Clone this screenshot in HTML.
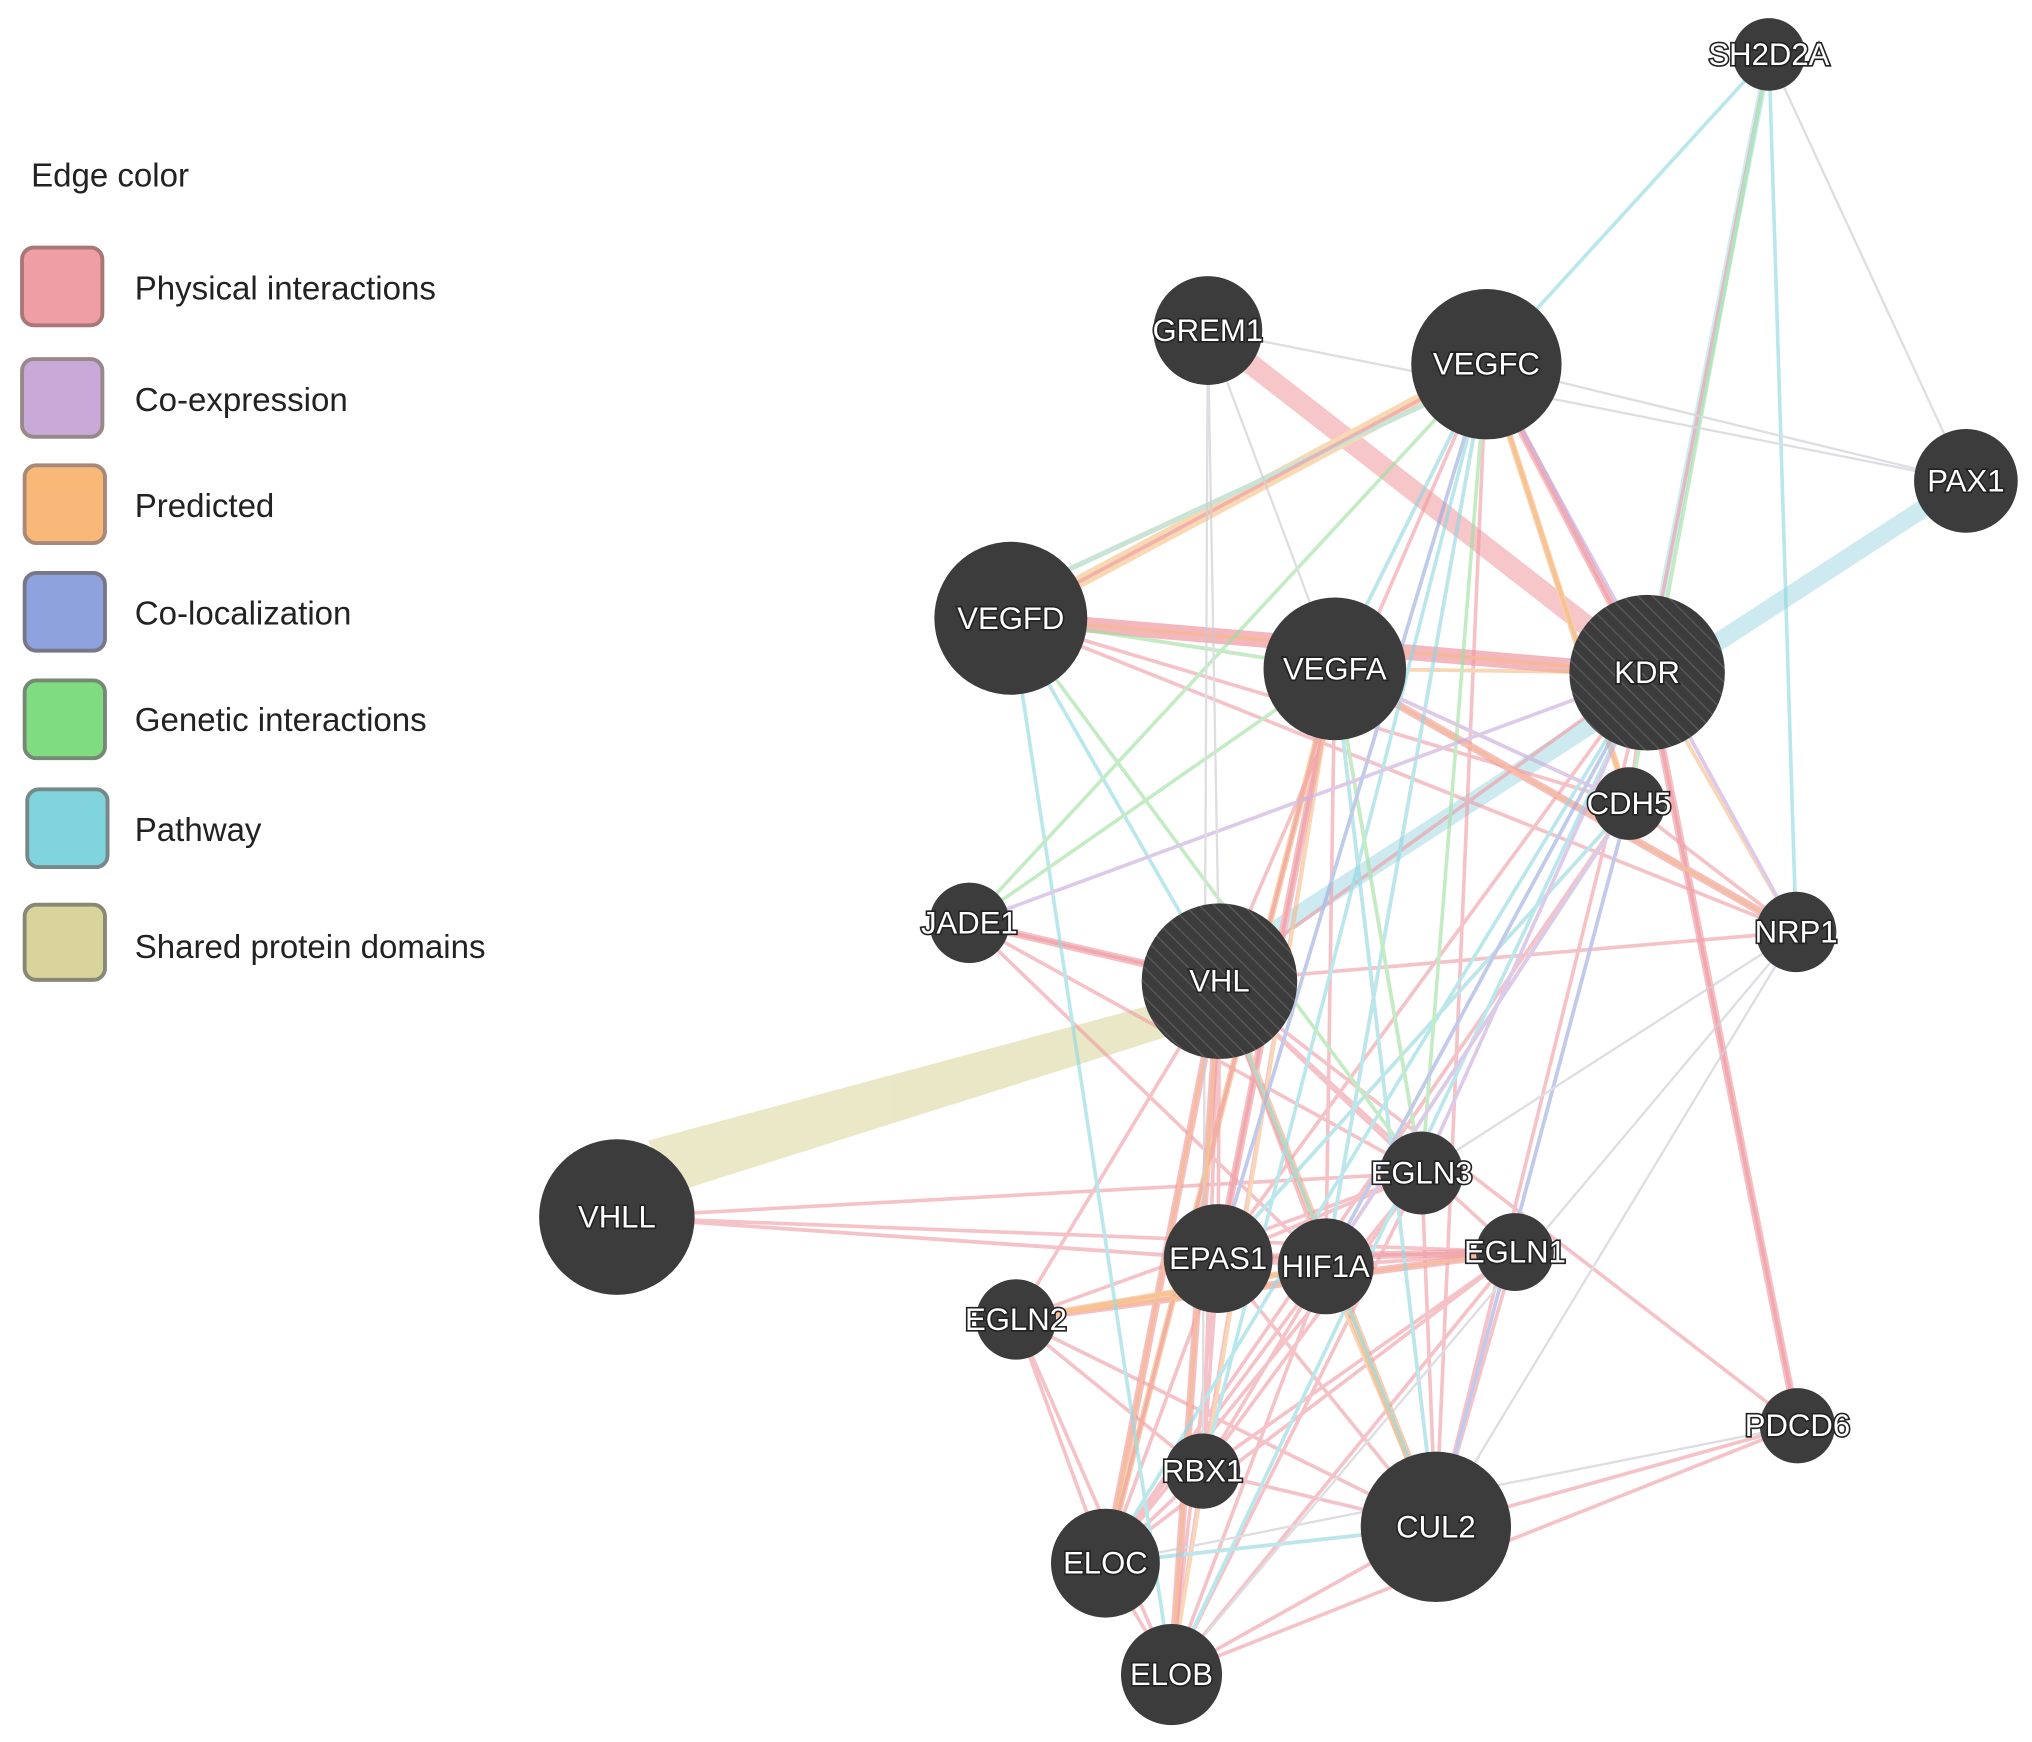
<!DOCTYPE html>
<html><head><meta charset="utf-8"><style>
html,body{margin:0;padding:0;background:#fff;}
svg{display:block;}
text{font-family:"Liberation Sans",sans-serif;}
.n{fill:#3c3c3c;}
.l{fill:#fff;font-size:24px;text-anchor:middle;dominant-baseline:central;paint-order:stroke;stroke:#222;stroke-width:2.5px;}
.lg{fill:#222;font-size:25.5px;}
</style></head><body>
<svg width="2032" height="1742" viewBox="0 0 1568 1344" preserveAspectRatio="none" xmlns="http://www.w3.org/2000/svg">
<defs>
<pattern id="h" width="8" height="8" patternUnits="userSpaceOnUse" patternTransform="rotate(-45)">
<rect width="8" height="8" fill="#3c3c3c"/><line x1="0" y1="0" x2="0" y2="8" stroke="#5a5a5a" stroke-width="2"/>
</pattern>
</defs>
<text class="lg" x="24" y="144">Edge color</text>
<g stroke-width="3">
<rect x="17" y="191" width="62" height="60" rx="9" fill="#ee9ea4" stroke="#a77"/>
<rect x="17" y="277" width="62" height="60" rx="9" fill="#c9a9d8" stroke="#988"/>
<rect x="19" y="359" width="62" height="60" rx="9" fill="#f8b878" stroke="#a87"/>
<rect x="19" y="442" width="62" height="60" rx="9" fill="#8ea2dd" stroke="#778"/>
<rect x="19" y="525" width="62" height="60" rx="9" fill="#7fdc80" stroke="#787"/>
<rect x="21" y="609" width="62" height="60" rx="9" fill="#80d4de" stroke="#788"/>
<rect x="19" y="698" width="62" height="58" rx="9" fill="#d8d49c" stroke="#887"/>
</g>
<text class="lg" x="104" y="231">Physical interactions</text>
<text class="lg" x="104" y="317">Co-expression</text>
<text class="lg" x="104" y="399">Predicted</text>
<text class="lg" x="104" y="482">Co-localization</text>
<text class="lg" x="104" y="564">Genetic interactions</text>
<text class="lg" x="104" y="649">Pathway</text>
<text class="lg" x="104" y="739">Shared protein domains</text>

<g stroke-linecap="butt" opacity="0.75">
<polygon points="500,880 520,920 900,800 890,775" fill="#e4e0b4"/>
<line x1="1517" y1="371" x2="980" y2="720" stroke="#bde4ec" stroke-width="14"/>
<line x1="932" y1="255" x2="1271" y2="519" stroke="#f4b4b8" stroke-width="16"/>
<line x1="780" y1="477" x2="1271" y2="519" stroke="#f0a0a8" stroke-width="12"/>
<line x1="780" y1="477" x2="1147" y2="281" stroke="#f8cc9c" stroke-width="10"/>
<line x1="780" y1="460" x2="1147" y2="290" stroke="#b8dcc8" stroke-width="4"/>
<line x1="1365" y1="42" x2="1271" y2="519" stroke="#bfe6ee" stroke-width="6"/>
<g stroke="#f2acb2" stroke-width="6">
<path d="M941 757L1108 1178M941 757L904 1292M941 757L853 1206M784 1018L1169 966M940 971L1169 966M1271 519L1387 1100M1147 281L1271 519M1030 516L1386 719M748 712L941 757M1030 516L940 971"/>
</g>
<g stroke="#f7c28e" stroke-width="5">
<path d="M941 757L1108 1178M784 1018L1023 977M1147 281L1257 620M1030 516L853 1206"/>
</g>
</g>
<g fill="none" stroke-width="2.8" opacity="0.6">
<g stroke="#ef9aa2">
<path d="M1147 281L1271 519M1147 281L1386 719M1147 281L1257 620M1147 281L1030 516M1147 281L780 477M1271 519L1030 516M1271 519L1386 719M1271 519L1387 1100M1271 519L1257 620M780 477L1030 516M780 477L1386 719M1030 516L1386 719M748 712L941 757M748 712L1097 905M941 757L940 971M941 757L1023 977M941 757L1108 1178M941 757L928 1135M941 757L853 1206M941 757L904 1292M941 757L784 1018M941 757L1169 966M941 757L1097 905M476 939L940 971M476 939L1023 977M476 939L1169 966M784 1018L1169 966M784 1018L1097 905M784 1018L1108 1178M784 1018L904 1292M784 1018L853 1206M940 971L1108 1178M940 971L904 1292M940 971L853 1206M940 971L928 1135M1023 977L1108 1178M1023 977L853 1206M1023 977L904 1292M1023 977L928 1135M1097 905L853 1206M1097 905L904 1292M1097 905L1108 1178M1169 966L853 1206M1169 966L904 1292M1169 966L928 1135M1169 966L1108 1178M1108 1178L853 1206M1108 1178L904 1292M928 1135L1108 1178M928 1135L853 1206M928 1135L904 1292M853 1206L904 1292M1387 1100L1108 1178M1387 1100L904 1292M1030 516L940 971M1030 516L1023 977M1030 516L1108 1178M1030 516L853 1206M1147 281L941 757M1271 519L941 757M941 757L1387 1100M1365 42L1271 519M1257 620L1023 977M1030 516L1257 620M780 477L1257 620M1169 966L940 971M1097 905L940 971M1023 977L784 1018M941 757L1386 719M1030 516L1097 905M1030 516L904 1292M1030 516L928 1135M1147 281L1108 1178M1147 281L1023 977M1271 519L1108 1178M1271 519L940 971M1257 620L853 1206M1257 620L1386 719M784 1018L928 1135M476 939L1097 905M1097 905L928 1135M1023 977L1169 966M748 712L1023 977"/>
</g>
<g stroke="#f6bb85">
<path d="M941 757L1108 1178M941 757L904 1292M941 757L853 1206M784 1018L1023 977M784 1018L1169 966M1030 516L1386 719M1147 281L1257 620M1030 516L1271 519M1257 620L940 971M1030 516L904 1292M780 477L1271 519M1023 977L1108 1178M1257 620L1023 977M1271 519L1386 719"/>
</g>
<g stroke="#8cd8e0">
<path d="M780 477L941 757M1147 281L1030 516M1147 281L1023 977M1257 620L1023 977M1365 42L1147 281M1365 42L1386 719M1271 519L904 1292M1030 516L1108 1178M941 757L1108 1178M853 1206L1108 1178M1257 620L940 971M1147 281L928 1135M1271 519L853 1206M780 477L904 1292"/>
</g>
<g stroke="#9de09e">
<path d="M780 477L1030 516M1147 281L1097 905M1147 281L940 971M1365 42L1257 620M748 712L1147 281M1030 516L1097 905M1271 519L1023 977M780 477L1097 905M748 712L1030 516"/>
</g>
<g stroke="#c8a8dc">
<path d="M1257 620L1023 977M1271 519L1097 905M748 712L1271 519M1147 281L1386 719M1030 516L1257 620M1257 620L1108 1178"/>
</g>
<g stroke="#9aa8e0">
<path d="M1271 519L1023 977M1147 281L940 971M1257 620L1108 1178"/>
</g>
<g stroke="#c9c9d0" stroke-width="1.8">
<path d="M1365 42L1517 371M932 255L1517 371M1147 281L1517 371M932 255L928 1135M932 255L1030 516M1386 719L1108 1178M1386 719L1097 905M1386 719L904 1292M1387 1100L853 1206M932 255L941 757"/>
</g>
</g>

<g>
<circle class="n" cx="1365" cy="42" r="28"/>
<circle class="n" cx="932" cy="255" r="42"/>
<circle class="n" cx="1147" cy="281" r="58"/>
<circle class="n" cx="1517" cy="371" r="40"/>
<circle class="n" cx="780" cy="477" r="59"/>
<circle class="n" cx="1030" cy="516" r="55"/>
<circle cx="1271" cy="519" r="60" fill="url(#h)"/>
<circle class="n" cx="1257" cy="620" r="28"/>
<circle class="n" cx="1386" cy="719" r="31"/>
<circle class="n" cx="748" cy="712" r="31"/>
<circle cx="941" cy="757" r="60" fill="url(#h)"/>
<circle class="n" cx="476" cy="939" r="60"/>
<circle class="n" cx="1097" cy="905" r="32"/>
<circle class="n" cx="940" cy="971" r="42"/>
<circle class="n" cx="1023" cy="977" r="37"/>
<circle class="n" cx="1169" cy="966" r="30"/>
<circle class="n" cx="784" cy="1018" r="31"/>
<circle class="n" cx="1387" cy="1100" r="29"/>
<circle class="n" cx="928" cy="1135" r="29"/>
<circle class="n" cx="1108" cy="1178" r="58"/>
<circle class="n" cx="853" cy="1206" r="42"/>
<circle class="n" cx="904" cy="1292" r="39"/>
</g>
<g>
<text class="l" x="1365" y="42">SH2D2A</text>
<text class="l" x="932" y="255">GREM1</text>
<text class="l" x="1147" y="281">VEGFC</text>
<text class="l" x="1517" y="371">PAX1</text>
<text class="l" x="780" y="477">VEGFD</text>
<text class="l" x="1030" y="516">VEGFA</text>
<text class="l" x="1271" y="519">KDR</text>
<text class="l" x="1257" y="620">CDH5</text>
<text class="l" x="1386" y="719">NRP1</text>
<text class="l" x="748" y="712">JADE1</text>
<text class="l" x="941" y="757">VHL</text>
<text class="l" x="476" y="939">VHLL</text>
<text class="l" x="1097" y="905">EGLN3</text>
<text class="l" x="940" y="971">EPAS1</text>
<text class="l" x="1023" y="977">HIF1A</text>
<text class="l" x="1169" y="966">EGLN1</text>
<text class="l" x="784" y="1018">EGLN2</text>
<text class="l" x="1387" y="1100">PDCD6</text>
<text class="l" x="928" y="1135">RBX1</text>
<text class="l" x="1108" y="1178">CUL2</text>
<text class="l" x="853" y="1206">ELOC</text>
<text class="l" x="904" y="1292">ELOB</text>
</g>
</svg>
</body></html>
